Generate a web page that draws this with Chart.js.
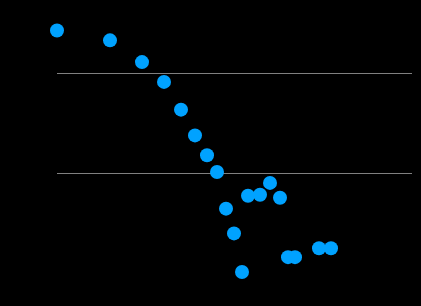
<!DOCTYPE html>
<html>
<head>
<meta charset="utf-8">
<script src="https://cdn.jsdelivr.net/npm/chart.js@4"></script>
<style>
  html, body { margin: 0; padding: 0; background: #000; }
  #wrap { width: 421px; height: 306px; }
</style>
</head>
<body>
<div id="wrap"><canvas id="grafico"></canvas></div>
<script>
// Datos
var valoresX = [0, 5.3, 8.5, 10.7, 12.4, 13.8, 15, 16, 16.9, 17.7, 18.5, 19.1, 20.3, 21.3, 22.3, 23.1, 23.8, 26.2, 27.4];
var valoresY = [2.44, 2.34, 2.12, 1.92, 1.64, 1.38, 1.18, 1.01, 0.64, 0.39, 0, 0.77, 0.78, 0.9, 0.75, 0.15, 0.15, 0.24, 0.24];
var lineasY = [1, 2];

var puntos = valoresX.map(function (x, i) { return { x: x, y: valoresY[i] }; });

const ctx = document.getElementById('grafico').getContext('2d');

var miGrafico = new Chart(ctx, {
    type: 'scatter',
    data: {
        datasets: [{
            data: puntos,
            backgroundColor: '#00a2ff',
            borderWidth: 0,
            pointRadius: 7,
            pointHoverRadius: 7,
            clip: false
        }]
    },
    options: {
        responsive: true,
        maintainAspectRatio: false,
        animation: false,
        layout: {
            autoPadding: false,
            padding: { left: 57, right: 9, top: 24.5, bottom: 34 }
        },
        plugins: {
            legend: { display: false },
            tooltip: { enabled: false }
        },
        scales: {
            x: {
                type: 'linear',
                display: false,
                min: 0,
                max: 35.5
            },
            y: {
                min: 0,
                max: 2.5,
                ticks: { display: false, stepSize: 0.5 },
                border: { display: false },
                grid: {
                    drawTicks: false,
                    lineWidth: 1,
                    color: function (c) {
                        return lineasY.indexOf(c.tick.value) >= 0 ? '#808080' : 'rgba(0,0,0,0)';
                    }
                }
            }
        }
    }
});
</script>
</body>
</html>
